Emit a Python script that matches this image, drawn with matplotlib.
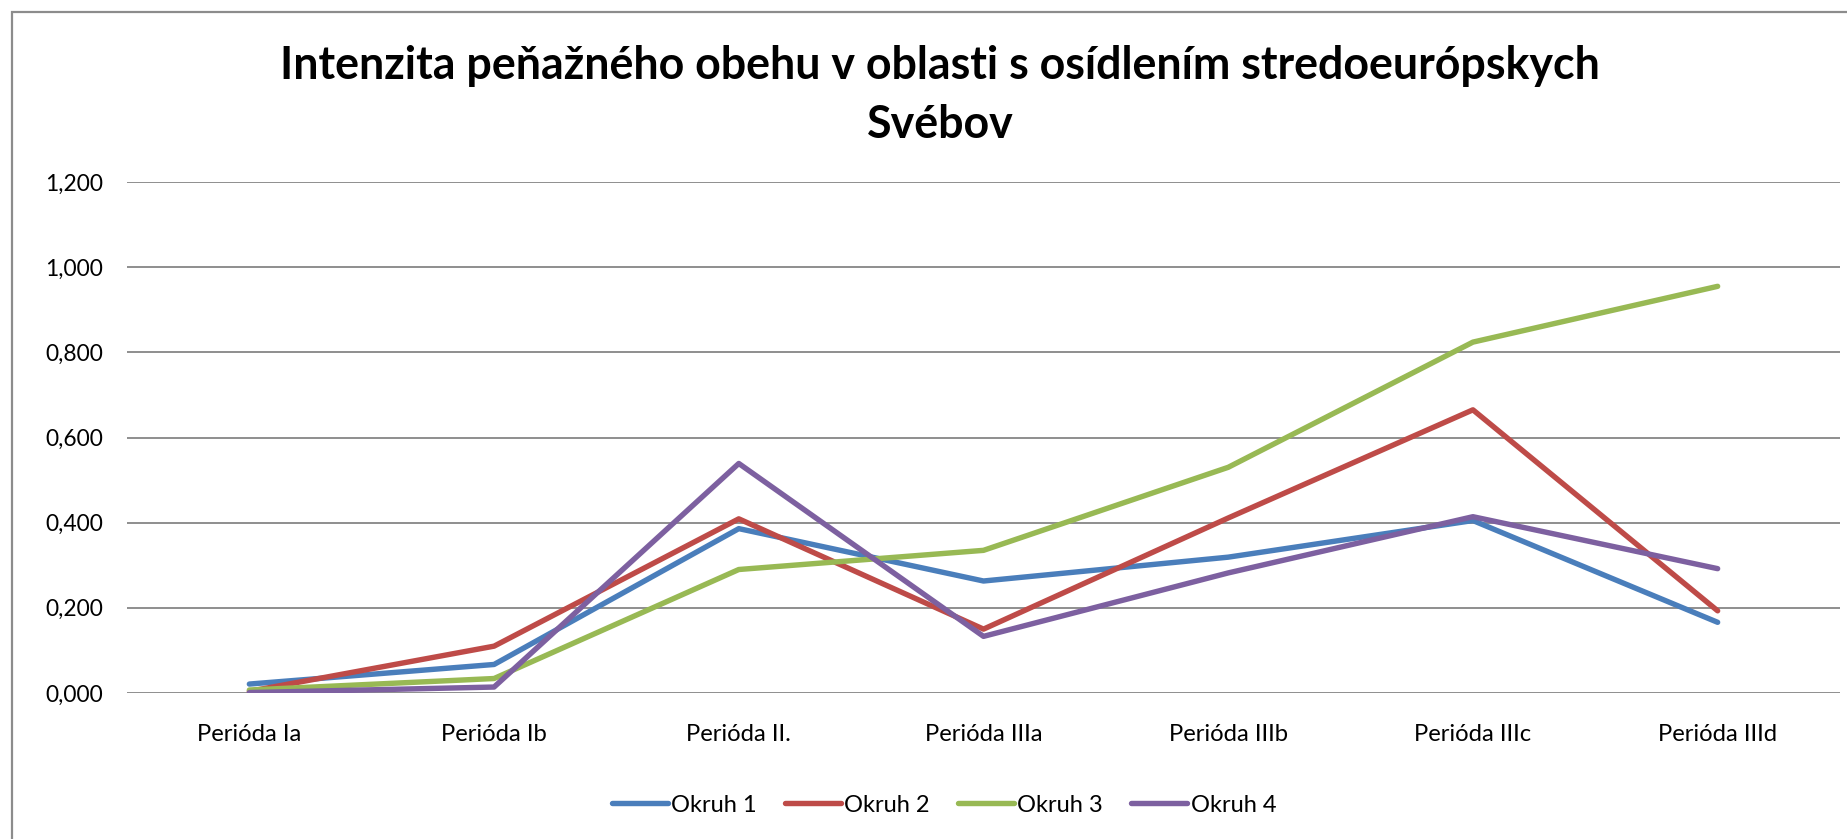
import matplotlib
matplotlib.use("Agg")
import matplotlib.pyplot as plt
from matplotlib.patches import Rectangle
from matplotlib.lines import Line2D

# ---- data ----
categories = ["Perióda Ia", "Perióda Ib", "Perióda II.", "Perióda IIIa",
              "Perióda IIIb", "Perióda IIIc", "Perióda IIId"]
series_names = ["Okruh 1", "Okruh 2", "Okruh 3", "Okruh 4"]
okruh1 = [0.021, 0.067, 0.386, 0.263, 0.319, 0.405, 0.166]
okruh2 = [0.004, 0.110, 0.409, 0.150, 0.411, 0.665, 0.193]
okruh3 = [0.007, 0.034, 0.290, 0.335, 0.530, 0.824, 0.955]
okruh4 = [0.001, 0.014, 0.539, 0.133, 0.282, 0.414, 0.292]
y_ticks = [0.0, 0.2, 0.4, 0.6, 0.8, 1.0, 1.2]
title_line1 = "Intenzita peňažného obehu v oblasti s osídlením stredoeurópskych"
title_line2 = "Svébov"

colors = ["#4A7EBB", "#BE4B48", "#98B954", "#7D60A0"]
FAM = "Lato"

W, H = 1847, 839
fig = plt.figure(figsize=(W / 100, H / 100), dpi=100)
renderer = fig.canvas.get_renderer()


def fit(text, target_px, weight="normal"):
    t = fig.text(0, 0, text, fontsize=20, family=FAM, weight=weight)
    w = t.get_window_extent(renderer).width
    t.remove()
    return 20 * target_px / w


fs_tick = fit("Perióda Ia", 105)
fs_ytick = fit("1,200", 58)
fs_leg = fit("Okruh 1", 86)
fs_title = fit(title_line1, 1321, "bold")

# outer chart border (top & left visible, rest cut off)
fig.add_artist(Rectangle((12 / W, -0.5), 2.0, (H - 12) / H + 0.5,
                         transform=fig.transFigure, fill=False,
                         edgecolor="#8C8C8C", lw=1.6, clip_on=False))

left, right = 127, 1840
y0px, y1px = 693, 182
ax = fig.add_axes([left / W, (H - y0px) / H, (right - left) / W, (y0px - y1px) / H])

x = list(range(len(categories)))
for vals, name, c in zip([okruh1, okruh2, okruh3, okruh4], series_names, colors):
    ax.plot(x, vals, color=c, lw=3.9, label=name,
            solid_capstyle="round", solid_joinstyle="round", zorder=3)

ax.set_xlim(-0.5, len(categories) - 0.5)
ax.set_ylim(0, 1.2)
ax.set_yticks(y_ticks)
ax.set_yticklabels([f"{v:.3f}".replace(".", ",") for v in y_ticks],
                   fontsize=fs_ytick, family=FAM)
ax.set_xticks(x)
ax.set_xticklabels(categories, fontsize=fs_tick, family=FAM)
ax.tick_params(axis="y", length=0, pad=17)
ax.tick_params(axis="x", length=0, pad=22)
for s in ax.spines.values():
    s.set_visible(False)
ax.grid(axis="y", color="#868686", lw=1.3, zorder=1)
ax.set_axisbelow(True)

# title
cx = 940 / W
fig.text(cx, (H - 79) / H, title_line1, ha="center", va="baseline",
         fontsize=fs_title, weight="bold", family=FAM)
fig.text(cx, (H - 138) / H, title_line2, ha="center", va="baseline",
         fontsize=fs_title, weight="bold", family=FAM)

# legend
handles = [Line2D([], [], color=c, lw=3.9, solid_capstyle="round") for c in colors]
fig.legend(handles, series_names, loc="center", ncol=4,
           bbox_to_anchor=(944 / W, (H - 805) / H), frameon=False,
           prop={"family": FAM, "size": fs_leg},
           handlelength=56 / (fs_leg * 100 / 72), handletextpad=0.15,
           columnspacing=28 / (fs_leg * 100 / 72), borderpad=0)

fig.savefig("out.png", dpi=100)
